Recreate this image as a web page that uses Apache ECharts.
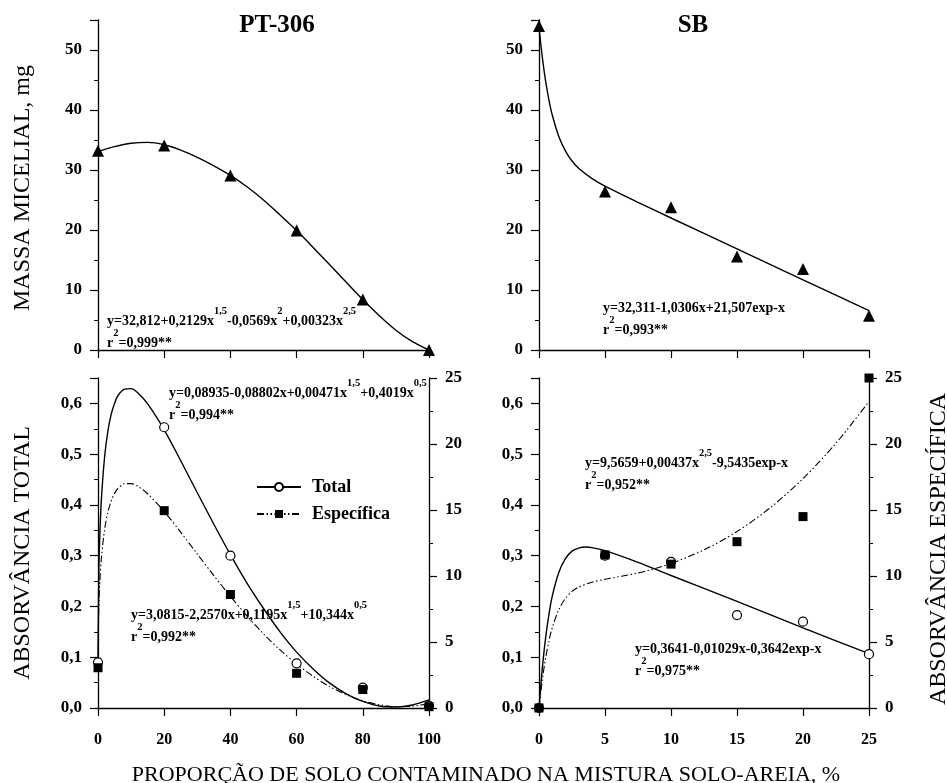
<!DOCTYPE html>
<html><head><meta charset="utf-8">
<script src="https://cdn.jsdelivr.net/npm/echarts@6/dist/echarts.min.js"></script>
<style>html,body{margin:0;padding:0;background:#fff}#c{width:947px;height:783px}</style>
</head><body><div id="c"></div>
<script>
const FONT = '"Liberation Serif","Times New Roman",serif';

// ---- PT-306 : massa micelial (top-left)
const ptX = [0, 20, 40, 60, 80, 100];
const ptMassa = [33.2, 34.1, 29.1, 19.9, 8.4, 0];
const ptMassaFit = [[0,33.1],[5,33.9],[10,34.45],[15,34.6],[20,34.2],[25,33.3],[30,32.1],[35,30.7],[40,29.1],[45,27.2],[50,25.0],[55,22.5],[60,19.9],[65,17.1],[70,14.2],[75,11.3],[80,8.4],[85,5.7],[90,3.3],[95,1.4],[100,0]];

// ---- SB : massa micelial (top-right)
const sbX = [0, 5, 10, 15, 20, 25];
const sbMassa = [54.0, 26.4, 23.8, 15.6, 13.5, 5.7];
const sbMassaFit = [[0,53.8],[0.25,48.8],[0.5,44.8],[0.75,41.7],[1,39.2],[1.5,35.6],[2,33.2],[2.5,31.5],[3,30.3],[4,28.6],[5,27.3],[7.5,24.6],[10,22.0],[15,16.85],[20,11.7],[25,6.55]];

// ---- PT-306 : absorvancia (bottom-left)
const ptTotal = [0.09, 0.553, 0.30, 0.088, 0.04, 0.004];
const ptEspec = [3.05, 14.95, 8.6, 2.63, 1.4, 0.1];
const ptTotalFit = [[0,0.089],[0.25,0.269],[0.5,0.331],[1,0.408],[2,0.495],[3,0.546],[4,0.579],[5,0.600],[6,0.615],[8,0.628],[10,0.629],[12,0.621],[15,0.599],[20,0.548],[25,0.487],[30,0.424],[35,0.362],[40,0.302],[45,0.246],[50,0.196],[55,0.150],[60,0.110],[65,0.077],[70,0.049],[75,0.028],[80,0.013],[85,0.004],[90,0.002],[95,0.006],[100,0.016]];
const ptEspecFit = [[0,3.08],[0.25,7.70],[0.5,9.31],[1,11.29],[2,13.53],[3,14.85],[4,15.70],[5,16.26],[6,16.63],[8,16.99],[10,17.00],[12,16.80],[15,16.23],[20,14.89],[25,13.31],[30,11.67],[35,10.03],[40,8.46],[45,6.98],[50,5.62],[55,4.40],[60,3.33],[65,2.40],[70,1.62],[75,1.01],[80,0.54],[85,0.25],[90,0.11],[95,0.14],[100,0.32]];

// ---- SB : absorvancia (bottom-right)
const sbTotal = [0, 0.30, 0.288, 0.183, 0.170, 0.106];
const sbEspec = [0, 11.6, 10.9, 12.6, 14.5, 25.0];
const sbTotalFit = [[0,0],[0.25,0.078],[0.5,0.138],[0.75,0.184],[1,0.220],[1.5,0.267],[2,0.294],[2.5,0.309],[3,0.315],[3.5,0.317],[4,0.316],[5,0.310],[7.5,0.287],[10,0.261],[15,0.210],[20,0.158],[25,0.107]];
const sbEspecFit = [[0,0.02],[0.25,2.13],[0.5,3.78],[0.75,5.06],[1,6.06],[1.5,7.45],[2,8.30],[2.5,8.83],[3,9.16],[4,9.53],[5,9.75],[7.5,10.23],[10,10.95],[12.5,11.98],[15,13.37],[17.5,15.16],[20,17.38],[22.5,20.06],[25,23.22]];

const pairs = (xs, ys) => xs.map((x, i) => [x, ys[i]]);

const axLine = {show: true, onZero: false, lineStyle: {color: '#000', width: 1.3}};
const tick = {show: true, inside: false, length: 8, lineStyle: {color: '#000', width: 1.2}};
const minor = {show: true, splitNumber: 2, length: 4, lineStyle: {color: '#000', width: 1}};
const lbl = {color: '#000', fontFamily: FONT, fontWeight: 'bold', fontSize: 17, margin: 16};

function xAx(grid, max, interval, showLabel) {
  return {type: 'value', gridIndex: grid, min: 0, max: max, interval: interval, position: 'bottom',
    axisLine: axLine, axisTick: tick, splitLine: {show: false},
    axisLabel: Object.assign({}, lbl, {show: showLabel, fontSize: 16, margin: 24})};
}
function yAx(grid, max, interval, pos, fmt) {
  return {type: 'value', gridIndex: grid, min: 0, max: max, interval: interval, position: pos,
    axisLine: axLine, axisTick: tick, minorTick: minor, splitLine: {show: false}, minorSplitLine: {show: false},
    axisLabel: Object.assign({}, lbl, {formatter: fmt})};
}
const fmtMass = v => (v > 52 ? '' : String(v));
const fmtAbs = v => (v > 0.62 ? '' : v.toFixed(1).replace('.', ','));
const fmtEsp = v => String(v);

const solid = {color: '#000', width: 1.4, type: 'solid'};
const dashdot = {color: '#000', width: 1.1, type: [7, 2.5, 1.5, 2.5, 1.5, 2.5]};

function fitLine(name, data, xi, yi, ls, sym, itemStyle) {
  return {name: name, type: 'line', data: data, xAxisIndex: xi, yAxisIndex: yi, smooth: 0.3,
    symbol: sym || 'none', showSymbol: false, lineStyle: ls, itemStyle: itemStyle || {color: '#000'},
    silent: true, z: 2, clip: false};
}
function pts(name, data, xi, yi, sym, size, itemStyle, z) {
  return {name: name, type: 'scatter', data: data, xAxisIndex: xi, yAxisIndex: yi, symbol: sym,
    symbolSize: size, itemStyle: itemStyle, clip: false, z: z || 3, silent: true};
}
const openCircle = {color: '#fff', borderColor: '#000', borderWidth: 1.2, opacity: 1};
const filled = {color: '#000', opacity: 1};

const richEq = {
  n: {fontFamily: FONT, fontWeight: 'bold', fontSize: 14, lineHeight: 22, verticalAlign: 'bottom', fill: '#000'},
  s: {fontFamily: FONT, fontWeight: 'bold', fontSize: 10.5, lineHeight: 22, verticalAlign: 'top', fill: '#000'}
};
function eq(x, y, text) {
  return {type: 'text', x: x, y: y, z: 10, silent: true,
    style: {text: text, rich: richEq, fontFamily: FONT, fontWeight: 'bold', fontSize: 14, fill: '#000', align: 'left', verticalAlign: 'top'}};
}
function label(x, y, text, size, bold, rot) {
  return {type: 'text', x: x, y: y, rotation: rot || 0, z: 10, silent: true,
    style: {text: text, fontFamily: FONT, fontWeight: bold ? 'bold' : 'normal', fontSize: size, fill: '#000', align: 'center', verticalAlign: 'middle'}};
}

const option = {
  backgroundColor: '#fff',
  animation: false,
  grid: [
    {left: 98, top: 20, width: 331, height: 330},
    {left: 539, top: 20, width: 330, height: 330},
    {left: 98, top: 378, width: 331, height: 330},
    {left: 539, top: 378, width: 330, height: 330}
  ],
  xAxis: [xAx(0, 100, 20, false), xAx(1, 25, 5, false), xAx(2, 100, 20, true), xAx(3, 25, 5, true)],
  yAxis: [
    yAx(0, 55, 10, 'left', fmtMass),
    yAx(1, 55, 10, 'left', fmtMass),
    yAx(2, 0.65, 0.1, 'left', fmtAbs),
    yAx(2, 25, 5, 'right', fmtEsp),
    yAx(3, 0.65, 0.1, 'left', fmtAbs),
    yAx(3, 25, 5, 'right', fmtEsp)
  ],
  legend: {
    data: ['Total', 'Específica'], orient: 'vertical', left: 251, top: 473, itemWidth: 44, itemHeight: 10,
    itemGap: 9, selectedMode: false,
    textStyle: {fontFamily: FONT, fontWeight: 'bold', fontSize: 18, color: '#000', padding: [0, 0, 0, 6]}
  },
  series: [
    fitLine('fitPT', ptMassaFit, 0, 0, solid),
    pts('ptMassa', pairs(ptX, ptMassa), 0, 0, 'triangle', 12, filled),
    fitLine('fitSB', sbMassaFit, 1, 1, solid),
    pts('sbMassa', pairs(sbX, sbMassa), 1, 1, 'triangle', 12, filled),

    fitLine('Total', ptTotalFit, 2, 2, solid, 'circle', openCircle),
    fitLine('Específica', ptEspecFit, 2, 3, dashdot, 'rect', filled),
    pts('ptTotal', pairs(ptX, ptTotal), 2, 2, 'circle', 9, openCircle, 3),
    pts('ptEspec', pairs(ptX, ptEspec), 2, 3, 'rect', 9, filled, 4),

    fitLine('sbTotalFit', sbTotalFit, 3, 4, solid),
    fitLine('sbEspecFit', sbEspecFit, 3, 5, dashdot),
    pts('sbTotal', pairs(sbX, sbTotal), 3, 4, 'circle', 9, openCircle, 3),
    pts('sbEspec', pairs(sbX, sbEspec), 3, 5, 'rect', 9, filled, 4)
  ],
  graphic: [
    label(277, 26, 'PT-306', 25, true),
    label(693, 26, 'SB', 25, true),
    label(23, 188, 'MASSA MICELIAL, mg', 24, false, Math.PI / 2),
    label(23, 553, 'ABSORVÂNCIA TOTAL', 24, false, Math.PI / 2),
    label(939, 549, 'ABSORVÂNCIA ESPECÍFICA', 24, false, Math.PI / 2),
    label(486, 775, 'PROPORÇÃO DE SOLO CONTAMINADO NA MISTURA SOLO-AREIA, %', 22, false),
    eq(107, 306, '{n|y=32,812+0,2129x}{s|1,5}{n|-0,0569x}{s|2}{n|+0,00323x}{s|2,5}\n{n|r}{s|2}{n|=0,999**}'),
    eq(603, 293, '{n|y=32,311-1,0306x+21,507exp-x}\n{n|r}{s|2}{n|=0,993**}'),
    eq(169, 378, '{n|y=0,08935-0,08802x+0,00471x}{s|1,5}{n|+0,4019x}{s|0,5}\n{n|r}{s|2}{n|=0,994**}'),
    eq(131, 600, '{n|y=3,0815-2,2570x+0,1195x}{s|1,5}{n|+10,344x}{s|0,5}\n{n|r}{s|2}{n|=0,992**}'),
    eq(585, 448, '{n|y=9,5659+0,00437x}{s|2,5}{n|-9,5435exp-x}\n{n|r}{s|2}{n|=0,952**}'),
    eq(635, 634, '{n|y=0,3641-0,01029x-0,3642exp-x}\n{n|r}{s|2}{n|=0,975**}')
  ]
};
const chart = echarts.init(document.getElementById('c'), null, {renderer: 'canvas'});
chart.setOption(option);
</script></body></html>
